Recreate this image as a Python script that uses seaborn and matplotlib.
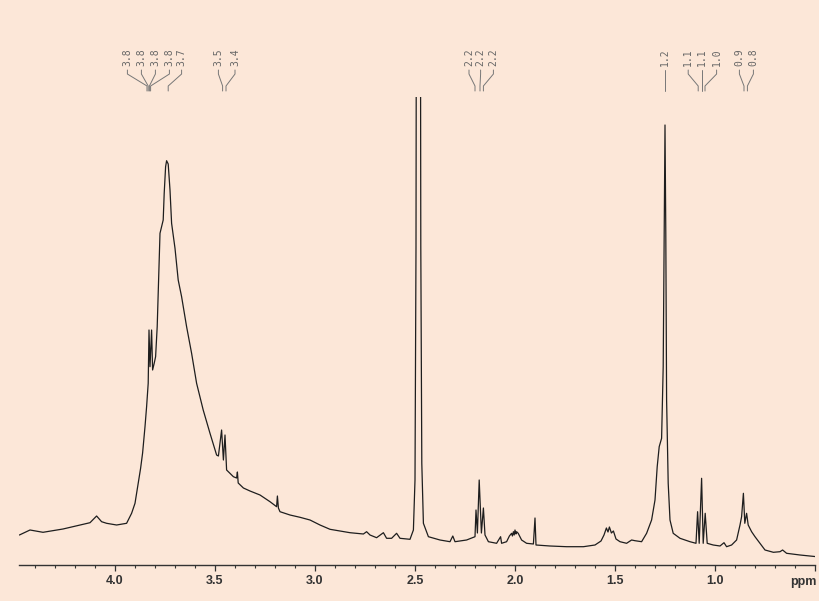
import matplotlib.pyplot as plt
import matplotlib.transforms as mtransforms
import numpy as np
import pandas as pd
import seaborn as sns

# 1H NMR trace (chemical shift in ppm, arbitrary intensity)
ppm = [
    4.478, 4.425, 4.360, 4.260, 4.175, 4.125, 4.092, 4.067, 4.042, 3.992,
    3.942, 3.917, 3.900, 3.884, 3.872, 3.862, 3.850, 3.842, 3.834, 3.830,
    3.825, 3.817, 3.812, 3.804, 3.797, 3.789, 3.782, 3.775, 3.767, 3.759,
    3.754, 3.747, 3.742, 3.734, 3.725, 3.717, 3.700, 3.684, 3.667, 3.642,
    3.617, 3.592, 3.559, 3.525, 3.492, 3.483, 3.467, 3.458, 3.450, 3.442,
    3.425, 3.408, 3.392, 3.388, 3.384, 3.358, 3.325, 3.275, 3.225, 3.192,
    3.188, 3.183, 3.175, 3.125, 3.075, 3.025, 2.975, 2.925, 2.875, 2.825,
    2.758, 2.742, 2.725, 2.692, 2.658, 2.642, 2.617, 2.592, 2.575, 2.525,
    2.508, 2.500, 2.495, 2.493, 2.473, 2.471, 2.466, 2.458, 2.433, 2.375,
    2.325, 2.311, 2.300, 2.242, 2.200, 2.195, 2.188, 2.179, 2.168, 2.158,
    2.150, 2.133, 2.092, 2.072, 2.067, 2.042, 2.028, 2.017, 2.013, 2.008,
    2.004, 2.000, 1.995, 1.992, 1.984, 1.967, 1.942, 1.908, 1.900, 1.895,
    1.825, 1.742, 1.658, 1.600, 1.570, 1.555, 1.543, 1.535, 1.528, 1.518,
    1.508, 1.495, 1.475, 1.442, 1.417, 1.400, 1.367, 1.342, 1.317, 1.300,
    1.289, 1.279, 1.267, 1.259, 1.254, 1.250, 1.246, 1.242, 1.234, 1.225,
    1.209, 1.175, 1.125, 1.095, 1.087, 1.079, 1.067, 1.059, 1.049, 1.039,
    1.009, 0.975, 0.955, 0.942, 0.917, 0.892, 0.875, 0.867, 0.858, 0.851,
    0.842, 0.834, 0.817, 0.800, 0.775, 0.750, 0.708, 0.675, 0.662, 0.642,
    0.575, 0.492,
]
intensity = [
    30, 35, 32.7, 36, 40, 42.3, 49, 43.3, 41.7, 40,
    41.7, 51.7, 61.7, 81.7, 96.7, 112, 138.3, 158.3, 181.7, 235,
    198.3, 235, 195, 201.7, 208.3, 238.3, 285, 331.7, 338.3, 345,
    371.7, 398.3, 404.3, 401, 375, 341.7, 316.7, 285, 268.3, 238.3,
    211.7, 181.7, 155, 131.7, 110, 109, 135, 105, 130, 95,
    91.7, 88.3, 87, 93, 82, 77, 74, 70, 63.3, 58.3,
    69, 57, 53.3, 50, 47.7, 45, 40, 35.7, 34, 32.3,
    31, 33.3, 30, 27.3, 32.3, 26.7, 26.7, 31.7, 26.7, 25.7,
    35, 85, 318.3, 615, 615, 318.3, 101.7, 41.7, 28.3, 25,
    23.3, 29, 23.3, 25, 28.3, 55, 32, 85, 32, 57,
    30, 23.3, 21.7, 28.3, 21.7, 23.3, 29, 31.7, 29, 33.3,
    30, 35, 31, 33.3, 31.7, 25, 21.7, 21, 47, 20,
    19, 18.3, 18.3, 20, 24, 30, 37, 33, 38, 32,
    34, 26, 23.3, 21.7, 25, 24.3, 23.3, 31.7, 45, 65,
    98.3, 118.3, 126.7, 198.3, 331.7, 440, 331.7, 165, 81.7, 45,
    31.7, 26.7, 23.3, 21.7, 53.3, 21.7, 86.7, 21.7, 51.7, 21.7,
    20, 19, 22.3, 18.3, 20, 25, 40, 48.3, 71.7, 41.7,
    51.7, 40, 33.3, 28.3, 21.7, 15, 12.7, 13.3, 15, 11.7,
    10, 8.3,
]

# peak picking labels: where the text sits, which peak it points to, the text
label_pos = [3.938, 3.868, 3.798, 3.728, 3.667, 3.483, 3.400,
             2.230, 2.172, 2.108, 1.250, 1.134, 1.067, 0.992, 0.878, 0.808]
peak_pos = [3.840, 3.834, 3.828, 3.822, 3.734, 3.462, 3.445,
            2.200, 2.175, 2.158, 1.250, 1.084, 1.067, 1.050, 0.855, 0.838]
label_text = ["3.8", "3.8", "3.8", "3.8", "3.7", "3.5", "3.4",
              "2.2", "2.2", "2.2", "1.2", "1.1", "1.1", "1.0", "0.9", "0.8"]

major_ticks = [4.0, 3.5, 3.0, 2.5, 2.0, 1.5, 1.0, 0.5]
major_labels = ["4.0", "3.5", "3.0", "2.5", "2.0", "1.5", "1.0", ""]

df = pd.DataFrame({"ppm": ppm, "intensity": intensity})

bg = "#fce7d8"
sns.set_theme(style="ticks")
plt.rcParams["font.family"] = ["Liberation Sans", "DejaVu Sans"]

fig = plt.figure(figsize=(8.2, 6.01), dpi=100, facecolor=bg)
ax = fig.add_axes([19 / 820, 36 / 601, 796 / 820, 468 / 601])
ax.set_facecolor(bg)

sns.lineplot(data=df, x="ppm", y="intensity", sort=False, estimator=None,
             color="#1e1e1e", linewidth=0.9, ax=ax)

ax.set_xlim(4.48, 0.5)
ax.set_ylim(0, 468)
ax.set_yticks([])
ax.set_xlabel("")
ax.set_ylabel("")
for side in ["left", "top", "right"]:
    ax.spines[side].set_visible(False)
ax.spines["bottom"].set_color("#333333")
ax.spines["bottom"].set_linewidth(1.0)

ax.set_xticks(major_ticks)
ax.set_xticklabels(major_labels, fontweight="bold")
ax.set_xticks(np.arange(0.6, 4.45, 0.1), minor=True)
ax.tick_params(axis="x", which="major", bottom=True, direction="out", length=4.3,
               width=0.9, color="#333333", pad=3, labelsize=9, labelcolor="#333333")
ax.tick_params(axis="x", which="minor", bottom=True, direction="out", length=2.2,
               width=0.8, color="#333333")

trans = mtransforms.blended_transform_factory(ax.transData, ax.transAxes)
ax.text(0.556, -0.0427, "ppm", transform=trans, ha="center", va="baseline",
        fontsize=9, fontweight="bold", color="#333333")

# peak labels with connector lines
for lp, pp, txt in zip(label_pos, peak_pos, label_text):
    ax.text(lp, 1.0855, txt, transform=trans, rotation=90, ha="center", va="center",
            fontsize=7, family="DejaVu Sans Mono", color="#666666", clip_on=False)
    ax.plot([lp, lp, pp, pp], [1.0577, 1.0491, 1.0235, 1.0128], transform=trans,
            color="#777777", linewidth=0.7, clip_on=False)

fig.savefig("out.png", dpi=100, facecolor=bg)
